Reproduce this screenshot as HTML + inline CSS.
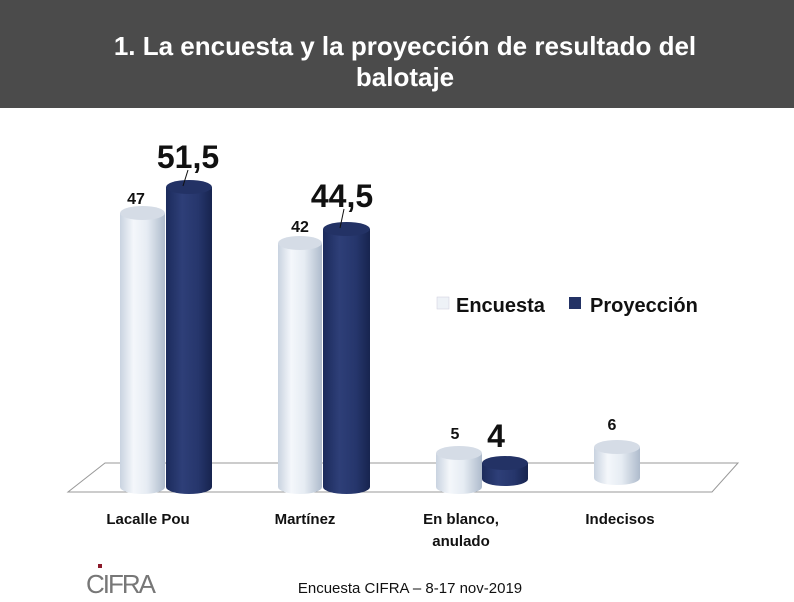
<!DOCTYPE html>
<html><head><meta charset="utf-8"><style>
body{margin:0;width:794px;height:597px;background:#fff;overflow:hidden;font-family:"Liberation Sans",sans-serif}
</style></head><body>
<svg width="794" height="597" xmlns="http://www.w3.org/2000/svg" font-family="Liberation Sans, sans-serif">
<defs>
<linearGradient id="lg" x1="0" x2="1"><stop offset="0" stop-color="#c9d3e0"/><stop offset="0.3" stop-color="#f4f7fb"/><stop offset="0.6" stop-color="#e6ecf3"/><stop offset="1" stop-color="#aebbcc"/></linearGradient>
<linearGradient id="dg" x1="0" x2="1"><stop offset="0" stop-color="#1c2b5c"/><stop offset="0.35" stop-color="#2e3f78"/><stop offset="0.7" stop-color="#26366c"/><stop offset="1" stop-color="#17244f"/></linearGradient>
</defs>
<rect x="0" y="0" width="794" height="108" fill="#4b4b4b"/>
<text x="405" y="55" fill="#fff" font-size="26" font-weight="bold" text-anchor="middle">1. La encuesta y la proyección de resultado del</text>
<text x="405" y="86" fill="#fff" font-size="26" font-weight="bold" text-anchor="middle">balotaje</text>
<polygon points="105,463 738,463 712,492 68,492" fill="#fff" stroke="#999" stroke-width="1"/>
<g>
<path d="M120,213 V487 A22.5,7 0 0 0 165,487 V213 Z" fill="url(#lg)"/><ellipse cx="142.5" cy="213" rx="22.5" ry="7" fill="#d5dce6"/>
<path d="M166,187 V487 A23,7 0 0 0 212,487 V187 Z" fill="url(#dg)"/><ellipse cx="189" cy="187" rx="23" ry="7" fill="#233265"/>
<path d="M278,243 V487 A22,7 0 0 0 322,487 V243 Z" fill="url(#lg)"/><ellipse cx="300" cy="243" rx="22" ry="7" fill="#d5dce6"/>
<path d="M323,229 V487 A23.5,7 0 0 0 370,487 V229 Z" fill="url(#dg)"/><ellipse cx="346.5" cy="229" rx="23.5" ry="7" fill="#233265"/>
<path d="M436,453 V487 A23,7 0 0 0 482,487 V453 Z" fill="url(#lg)"/><ellipse cx="459" cy="453" rx="23" ry="7" fill="#d5dce6"/>
<path d="M482,463 V479 A23,7 0 0 0 528,479 V463 Z" fill="url(#dg)"/><ellipse cx="505" cy="463" rx="23" ry="7" fill="#233265"/>
<path d="M594,447 V478 A23,7 0 0 0 640,478 V447 Z" fill="url(#lg)"/><ellipse cx="617" cy="447" rx="23" ry="7" fill="#d5dce6"/>
</g>
<g font-weight="bold" fill="#111" text-anchor="middle">
<text x="136" y="204" font-size="16">47</text>
<text x="188" y="168" font-size="32">51,5</text>
<text x="300" y="232" font-size="16">42</text>
<text x="342" y="207" font-size="32">44,5</text>
<text x="455" y="439" font-size="16">5</text>
<text x="496" y="447" font-size="32">4</text>
<text x="612" y="430" font-size="16">6</text>
</g>
<line x1="188" y1="170" x2="183" y2="186" stroke="#111"/>
<line x1="344" y1="209" x2="340" y2="228" stroke="#111"/>
<rect x="437" y="297" width="12" height="12" fill="#eef2f7" stroke="#ccd" stroke-width="0.5"/>
<text x="456" y="312" font-size="20" font-weight="bold" fill="#111">Encuesta</text>
<rect x="569" y="297" width="12" height="12" fill="#233265"/>
<text x="590" y="312" font-size="20" font-weight="bold" fill="#111">Proyección</text>
<g font-size="15" font-weight="bold" fill="#111" text-anchor="middle">
<text x="148" y="524">Lacalle Pou</text>
<text x="305" y="524">Martínez</text>
<text x="461" y="524">En blanco,</text>
<text x="461" y="546">anulado</text>
<text x="620" y="524">Indecisos</text>
</g>
<text x="410" y="593" font-size="15" fill="#111" text-anchor="middle">Encuesta CIFRA – 8-17 nov-2019</text>
<text x="86" y="593" font-size="26" fill="#777" letter-spacing="-2">CIFRA</text>
<rect x="98" y="564" width="4" height="4" fill="#8b1a2a"/>
</svg>
</body></html>
